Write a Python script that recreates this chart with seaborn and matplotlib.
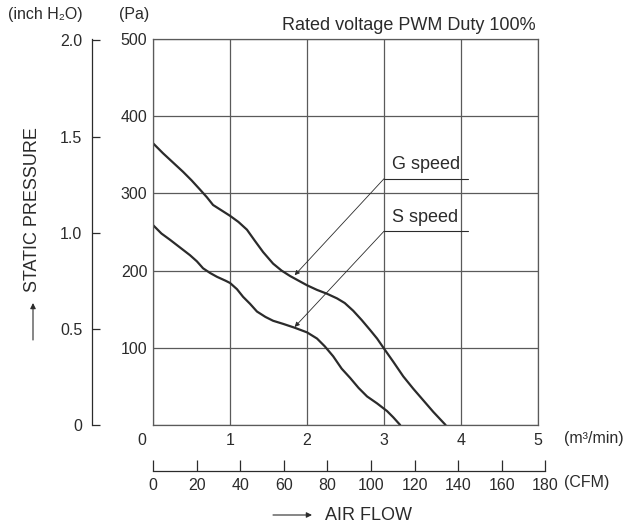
import matplotlib
matplotlib.use("Agg")
import matplotlib.pyplot as plt
import matplotlib.transforms as mtransforms
import seaborn as sns
import pandas as pd

# air flow (m3/min) / static pressure (Pa)
flow_g = [0.0, 0.13, 0.26, 0.39, 0.50, 0.61, 0.70, 0.78, 0.89, 1.0, 1.11, 1.22, 1.32, 1.43,
          1.56, 1.67, 1.78, 1.89, 2.0, 2.13, 2.26, 2.39, 2.49, 2.60, 2.71, 2.82, 2.91, 3.0,
          3.12, 3.25, 3.38, 3.51, 3.64, 3.80]
pressure_g = [365, 352, 340, 328, 317, 305, 295, 285, 278, 271, 263, 253, 239, 224,
              209, 200, 193, 187, 181, 175, 170, 164, 158, 148, 136, 123, 112, 99,
              82, 63, 47, 32, 17, 0]
flow_s = [0.0, 0.11, 0.22, 0.35, 0.48, 0.57, 0.65, 0.74, 0.83, 0.94, 1.0, 1.09, 1.17, 1.26,
          1.35, 1.46, 1.56, 1.69, 1.84, 2.0, 2.13, 2.23, 2.34, 2.45, 2.56, 2.67, 2.78, 2.91,
          3.04, 3.12, 3.21]
pressure_s = [259, 248, 240, 230, 220, 212, 203, 197, 192, 187, 184, 176, 166, 157,
              147, 140, 135, 131, 126, 120, 112, 102, 89, 73, 61, 48, 37, 28,
              18, 10, 0]

flow_ticks = [0, 1, 2, 3, 4, 5]
pa_ticks = [0, 100, 200, 300, 400, 500]
pa_labels = ["", "100", "200", "300", "400", "500"]
inch_ticks = [0, 0.5, 1.0, 1.5, 2.0]
inch_labels = ["0", "0.5", "1.0", "1.5", "2.0"]
cfm_ticks = [0, 20, 40, 60, 80, 100, 120, 140, 160, 180]

PA_PER_INCH = 249.089
CFM_PER_M3MIN = 35.3147
W, H = 632, 524
INK = "#2b2b2b"
GRID = "#5a5a5a"
NUM = 11.5

sns.set_theme(style="white")
plt.rcParams["font.family"] = ["Liberation Sans", "DejaVu Sans"]
plt.rcParams["text.color"] = INK
plt.rcParams["xtick.color"] = INK
plt.rcParams["ytick.color"] = INK

def fx(x):
    return x / W

def fy(y):
    return 1 - y / H

fig = plt.figure(figsize=(W / 100, H / 100), dpi=100)
ax = fig.add_axes([fx(153), fy(425), 385 / W, 386 / H])

df = pd.concat([
    pd.DataFrame({"flow": flow_g, "pressure": pressure_g, "speed": "G speed"}),
    pd.DataFrame({"flow": flow_s, "pressure": pressure_s, "speed": "S speed"}),
])
sns.lineplot(data=df, x="flow", y="pressure", hue="speed", units="speed",
             estimator=None, sort=False, palette=[INK, INK], linewidth=1.6,
             legend=False, ax=ax)

ax.set_xlim(0, 5)
ax.set_ylim(0, 500)
ax.set_xticks(flow_ticks)
ax.set_yticks(pa_ticks)
ax.set_yticklabels(pa_labels)
ax.set_xlabel("")
ax.set_ylabel("")
ax.grid(True, color=GRID, linewidth=0.9)
for s in ax.spines.values():
    s.set_color(GRID)
    s.set_linewidth(0.9)
ax.tick_params(length=0, labelsize=NUM, pad=4)
ax.tick_params(axis="x", pad=6)
# first x label sits left of the corner
lab0 = ax.get_xticklabels()[0]
lab0.set_transform(lab0.get_transform() + mtransforms.ScaledTranslation(-11 / 100, 0, fig.dpi_scale_trans))

# curve labels with leader lines
speed_labels = ["G speed", "S speed"]
label_y = [319, 251]
arrow_tip = [(1.84, 194), (1.84, 127)]
for name, ly, tip in zip(speed_labels, label_y, arrow_tip):
    ax.plot([3.0, 4.09], [ly, ly], color=INK, linewidth=0.8)
    ax.text(3.10, ly + 7, name, fontsize=13, ha="left", va="bottom")
    ax.annotate("", xy=tip, xytext=(3.0, ly),
                arrowprops=dict(arrowstyle="-|>", color=INK, lw=0.6, mutation_scale=7,
                                shrinkA=0, shrinkB=0))

# inch H2O scale
ax_in = fig.add_axes([fx(92), fy(425), 0.0001, 386 / H])
ax_in.set_ylim(0, 500 / PA_PER_INCH)
ax_in.set_xticks([])
ax_in.set_yticks(inch_ticks)
ax_in.set_yticklabels(inch_labels)
ax_in.patch.set_visible(False)
for k in ["right", "top", "bottom"]:
    ax_in.spines[k].set_visible(False)
ax_in.spines["left"].set_color(INK)
ax_in.spines["left"].set_linewidth(0.9)
ax_in.tick_params(axis="y", left=True, direction="in", length=6, width=0.9,
                  labelsize=NUM, pad=7)

# CFM scale
ax_c = fig.add_axes([fx(153), fy(471), 180 / CFM_PER_M3MIN * 77 / W, 0.0001])
ax_c.set_xlim(0, 180)
ax_c.set_yticks([])
ax_c.set_xticks(cfm_ticks)
ax_c.patch.set_visible(False)
for k in ["left", "right", "top"]:
    ax_c.spines[k].set_visible(False)
ax_c.spines["bottom"].set_color(INK)
ax_c.spines["bottom"].set_linewidth(0.9)
ax_c.tick_params(axis="x", bottom=True, direction="in", length=8, width=0.9,
                 labelsize=NUM, pad=5)

# unit labels and titles
fig.text(fx(45), fy(15), "(inch H\u2082O)", fontsize=NUM, ha="center", va="center")
fig.text(fx(134), fy(15), "(Pa)", fontsize=NUM, ha="center", va="center")
fig.text(fx(564), fy(439), "(m\u00b3/min)", fontsize=NUM, ha="left", va="center")
fig.text(fx(564), fy(483), "(CFM)", fontsize=NUM, ha="left", va="center")
fig.text(fx(536), fy(25), "Rated voltage PWM Duty 100%", fontsize=13, ha="right", va="center")
fig.text(fx(33), fy(210), "STATIC PRESSURE", fontsize=13, rotation=90, ha="center", va="center")
fig.text(fx(325), fy(515), "AIR FLOW", fontsize=13, ha="left", va="center")
arrow_kw = dict(arrowstyle="-|>", color=INK, lw=0.8, mutation_scale=8, shrinkA=0, shrinkB=0)
ax.annotate("", xy=(fx(33), fy(303)), xytext=(fx(33), fy(340)),
            xycoords="figure fraction", textcoords="figure fraction", arrowprops=arrow_kw)
ax.annotate("", xy=(fx(312), fy(515)), xytext=(fx(273), fy(515)),
            xycoords="figure fraction", textcoords="figure fraction", arrowprops=arrow_kw)

fig.savefig("out.png", dpi=100, facecolor="white")
